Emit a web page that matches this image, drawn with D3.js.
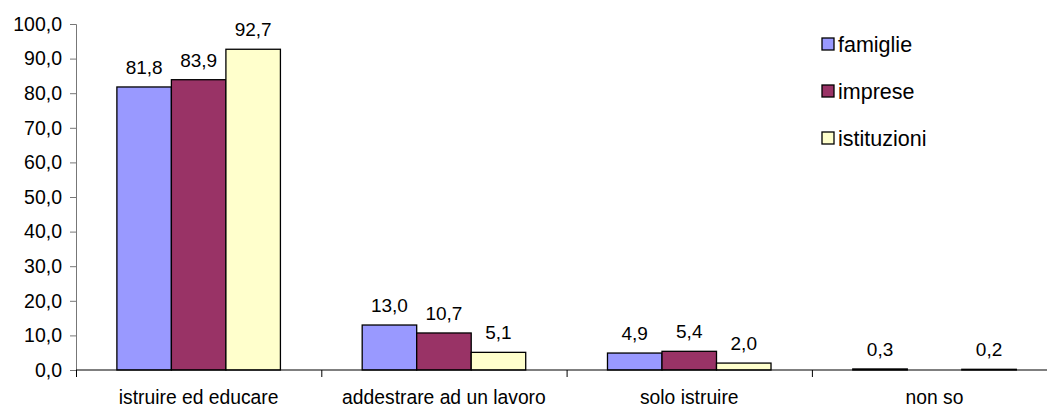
<!DOCTYPE html>
<html>
<head>
<meta charset="utf-8">
<script src="https://cdn.jsdelivr.net/npm/d3@7"></script>
<style>
  html, body { margin: 0; padding: 0; background: #fff; }
  svg { display: block; font-family: "Liberation Sans", Arial, sans-serif; }
</style>
</head>
<body>
<svg id="chart" width="1047" height="408"></svg>
<script>
// Categories and series values (percentages)
const categories = ["istruire ed educare", "addestrare ad un lavoro", "solo istruire", "non so"];
const seriesNames = ["famiglie", "imprese", "istituzioni"];
const famiglie = [81.8, 13.0, 4.9, 0.3];
const imprese = [83.9, 10.7, 5.4, null];
const istituzioni = [92.7, 5.1, 2.0, 0.2];
const yTicks = [0, 10, 20, 30, 40, 50, 60, 70, 80, 90, 100];
const seriesColors = ["#9999FF", "#993366", "#FFFFCC"];

const seriesValues = [famiglie, imprese, istituzioni];
const rows = categories.map((c, i) => ({
  category: c,
  values: seriesNames.map((s, j) => ({ series: s, value: seriesValues[j][i] }))
}));

const svg = d3.select("#chart");
const margin = { left: 76, top: 24, bottom: 38 };
const plotBottom = 408 - margin.bottom;
const bandWidth = 245.3;

const x = d3.scaleBand()
  .domain(categories)
  .range([margin.left, margin.left + bandWidth * categories.length])
  .paddingInner(0).paddingOuter(0);

// three bars per category, centred, with a gap of 3/4 bar width on each side
const xInner = d3.scaleBand()
  .domain(seriesNames)
  .range([0, x.bandwidth()])
  .paddingOuter(0.75);

const y = d3.scaleLinear().domain([0, 100]).range([plotBottom, margin.top]);

const fmt = v => d3.format(".1f")(v).replace(".", ",");

// Y axis
const yAxis = svg.append("g")
  .attr("transform", `translate(${margin.left},0)`)
  .call(d3.axisLeft(y).tickValues(yTicks).tickSize(6).tickPadding(8).tickFormat(fmt));
yAxis.select(".domain").attr("stroke", "#777").attr("d", `M-6,${margin.top + 0.5}H0.5V${plotBottom}`);
yAxis.selectAll(".tick line").attr("stroke", "#777");
yAxis.selectAll(".tick text")
  .attr("fill", "#000")
  .style("font-size", "19.5px");

// Bars
const groups = svg.append("g").selectAll("g")
  .data(rows)
  .join("g")
  .attr("transform", d => `translate(${x(d.category)},0)`);

groups.selectAll("rect")
  .data(d => d.values.filter(v => v.value !== null))
  .join("rect")
  .attr("x", d => xInner(d.series))
  .attr("y", d => y(d.value))
  .attr("width", xInner.bandwidth())
  .attr("height", d => y(0) - y(d.value))
  .attr("fill", d => seriesColors[seriesNames.indexOf(d.series)])
  .attr("stroke", "#000")
  .attr("stroke-width", 1.3);

// Value labels
groups.selectAll("text.val")
  .data(d => d.values.filter(v => v.value !== null))
  .join("text")
  .attr("class", "val")
  .attr("x", d => xInner(d.series) + xInner.bandwidth() / 2)
  .attr("y", d => y(d.value) - 13)
  .attr("text-anchor", "middle")
  .style("font-size", "19px")
  .text(d => fmt(d.value));

// X axis
const xAxis = svg.append("g")
  .attr("transform", `translate(0,${plotBottom})`);
xAxis.append("line")
  .attr("x1", margin.left).attr("x2", 1047)
  .attr("y1", 0).attr("y2", 0)
  .attr("stroke", "#000").attr("stroke-width", 1.2);
const boundaries = categories.map(c => x(c));
xAxis.selectAll("line.tick")
  .data(boundaries)
  .join("line")
  .attr("class", "tick")
  .attr("x1", d => d + 0.5).attr("x2", d => d + 0.5)
  .attr("y1", 0).attr("y2", 7)
  .attr("stroke", "#000");
xAxis.selectAll("text")
  .data(categories)
  .join("text")
  .attr("x", d => x(d) + x.bandwidth() / 2)
  .attr("y", 34)
  .attr("text-anchor", "middle")
  .style("font-size", "19.3px")
  .text(d => d);

// Legend
const legend = svg.append("g").selectAll("g")
  .data(seriesNames)
  .join("g")
  .attr("transform", (d, i) => `translate(822,${44 + i * 47})`);
legend.append("rect")
  .attr("x", 0).attr("y", -6)
  .attr("width", 12).attr("height", 12)
  .attr("fill", (d, i) => seriesColors[i])
  .attr("stroke", "#000").attr("stroke-width", 1.3);
legend.append("text")
  .attr("x", 16).attr("y", 7.5)
  .style("font-size", "21.5px")
  .text(d => d);
</script>
</body>
</html>
